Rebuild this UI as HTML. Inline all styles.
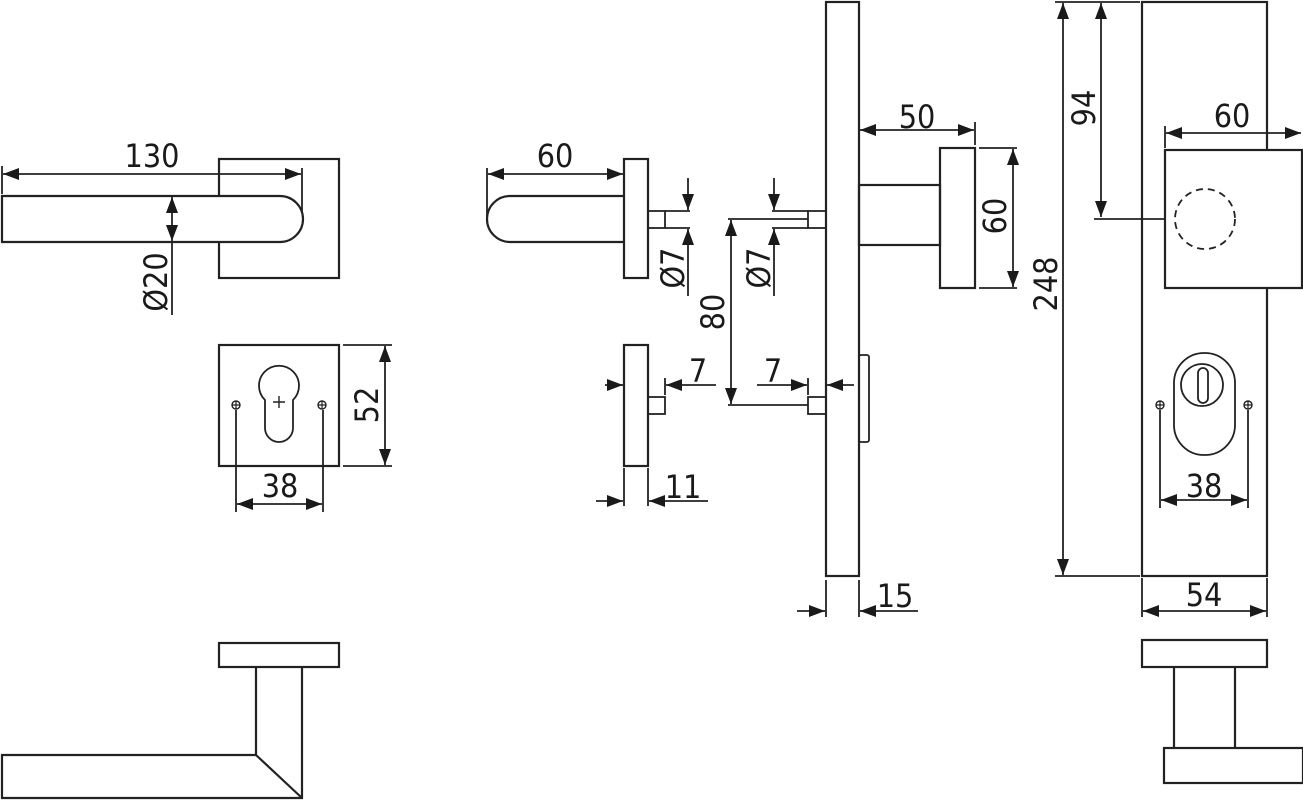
<!DOCTYPE html>
<html><head><meta charset="utf-8"><style>html,body{margin:0;padding:0;background:#fff}svg{display:block}</style></head>
<body>
<svg width="1303" height="800" viewBox="0 0 1303 800" xmlns="http://www.w3.org/2000/svg">
<defs>
<marker id="a" viewBox="0 0 16 12" refX="16" refY="6" markerWidth="16" markerHeight="12" markerUnits="userSpaceOnUse" orient="auto-start-reverse"><path d="M0,0 L16,6 L0,12 Z" fill="#1a1a1a"/></marker>
</defs>
<g fill="none" stroke="#222" stroke-width="2.2">
<!-- LEFT top handle -->
<rect x="219" y="159" width="120" height="119"/>
<path d="M2,196 H280 A23,23 0 0 1 280,242 H2 Z" fill="#fff"/>
<line x1="2" y1="166" x2="2" y2="194" stroke-width="1.8"/>
<line x1="302" y1="168" x2="302" y2="212" stroke-width="1.8"/>
<line x1="3" y1="174" x2="301" y2="174" stroke-width="1.8" marker-start="url(#a)" marker-end="url(#a)"/>
<line x1="172" y1="197" x2="172" y2="241" stroke-width="1.8" marker-start="url(#a)" marker-end="url(#a)"/>
<line x1="172" y1="241" x2="172" y2="315" stroke-width="1.8"/>
<!-- cylinder rosette -->
<rect x="219" y="345" width="120" height="121"/>
<path d="M265,400 A20,20 0 1 1 293,400 V428 A14,14 0 0 1 265,428 Z" stroke-width="1.8"/>
<path d="M273,402 H285 M279,396 V408" stroke-width="1.4"/>
<circle cx="236" cy="405" r="4" stroke-width="1.4"/><circle cx="322" cy="405" r="4" stroke-width="1.4"/>
<path d="M232,405 H240 M236,401 V409 M318,405 H326 M322,401 V409" stroke-width="1.2"/>
<line x1="236" y1="410" x2="236" y2="512" stroke-width="1.8"/>
<line x1="323" y1="410" x2="323" y2="512" stroke-width="1.8"/>
<line x1="237" y1="504" x2="322" y2="504" stroke-width="1.8" marker-start="url(#a)" marker-end="url(#a)"/>
<line x1="343" y1="345" x2="392" y2="345" stroke-width="1.8"/>
<line x1="343" y1="466" x2="392" y2="466" stroke-width="1.8"/>
<line x1="385" y1="346" x2="385" y2="465" stroke-width="1.8" marker-start="url(#a)" marker-end="url(#a)"/>
<!-- MIDDLE left handle -->
<rect x="624" y="159" width="24" height="119"/>
<path d="M624,196 H510 A23,23 0 0 0 510,242 H624" />
<line x1="487" y1="168" x2="487" y2="218" stroke-width="1.8"/>
<line x1="488" y1="174" x2="623" y2="174" stroke-width="1.8" marker-start="url(#a)" marker-end="url(#a)"/>
<rect x="648" y="211" width="17" height="17" stroke-width="1.8"/>
<path d="M665,211 H690 M665,228 H690" stroke-width="1.8"/>
<line x1="688" y1="178" x2="688" y2="210" stroke-width="1.8" marker-end="url(#a)"/>
<line x1="688" y1="296" x2="688" y2="229" stroke-width="1.8" marker-end="url(#a)"/>
<rect x="624" y="345" width="24" height="121"/>
<rect x="648" y="397" width="17" height="17" stroke-width="1.8"/>
<line x1="665" y1="378" x2="665" y2="395" stroke-width="1.8"/>
<line x1="605" y1="385" x2="623" y2="385" stroke-width="1.8" marker-end="url(#a)"/>
<line x1="716" y1="385" x2="666" y2="385" stroke-width="1.8" marker-end="url(#a)"/>
<line x1="624" y1="468" x2="624" y2="506" stroke-width="1.8"/>
<line x1="648" y1="468" x2="648" y2="506" stroke-width="1.8"/>
<line x1="596" y1="501" x2="623" y2="501" stroke-width="1.8" marker-end="url(#a)"/>
<line x1="708" y1="501" x2="649" y2="501" stroke-width="1.8" marker-end="url(#a)"/>
<!-- plate side -->
<rect x="826" y="2" width="33" height="574"/>
<rect x="808" y="211" width="18" height="17" stroke-width="1.8"/>
<path d="M772,211 H808 M772,228 H808 M728,219 H808" stroke-width="1.8"/>
<line x1="774" y1="178" x2="774" y2="210" stroke-width="1.8" marker-end="url(#a)"/>
<line x1="774" y1="296" x2="774" y2="229" stroke-width="1.8" marker-end="url(#a)"/>
<rect x="808" y="397" width="18" height="17" stroke-width="1.8"/>
<line x1="728" y1="405" x2="808" y2="405" stroke-width="1.8"/>
<line x1="731" y1="220" x2="731" y2="404" stroke-width="1.8" marker-start="url(#a)" marker-end="url(#a)"/>
<line x1="808" y1="378" x2="808" y2="395" stroke-width="1.8"/>
<line x1="757" y1="385" x2="807" y2="385" stroke-width="1.8" marker-end="url(#a)"/>
<line x1="854" y1="385" x2="827" y2="385" stroke-width="1.8" marker-end="url(#a)"/>
<rect x="859" y="355" width="10" height="87" rx="2" stroke-width="1.8"/>
<rect x="859" y="185" width="81" height="60"/>
<rect x="940" y="148" width="35" height="140"/>
<line x1="975" y1="122" x2="975" y2="145" stroke-width="1.8"/>
<line x1="860" y1="130" x2="974" y2="130" stroke-width="1.8" marker-start="url(#a)" marker-end="url(#a)"/>
<path d="M979,148 H1017 M979,288 H1017" stroke-width="1.8"/>
<line x1="1013" y1="149" x2="1013" y2="287" stroke-width="1.8" marker-start="url(#a)" marker-end="url(#a)"/>
<line x1="826" y1="580" x2="826" y2="617" stroke-width="1.8"/>
<line x1="859" y1="580" x2="859" y2="617" stroke-width="1.8"/>
<line x1="797" y1="611" x2="825" y2="611" stroke-width="1.8" marker-end="url(#a)"/>
<line x1="918" y1="611" x2="860" y2="611" stroke-width="1.8" marker-end="url(#a)"/>
<!-- RIGHT plate front -->
<path d="M1055,2 H1140 M1055,576 H1140" stroke-width="1.8"/>
<line x1="1063" y1="3" x2="1063" y2="575" stroke-width="1.8" marker-start="url(#a)" marker-end="url(#a)"/>
<line x1="1101" y1="3" x2="1101" y2="217" stroke-width="1.8" marker-start="url(#a)" marker-end="url(#a)"/>
<line x1="1094" y1="219" x2="1165" y2="219" stroke-width="1.8"/>
<rect x="1142" y="2" width="125" height="574"/>
<rect x="1165" y="150" width="137" height="138" fill="#fff"/>
<circle cx="1205" cy="219" r="30" stroke-width="1.8" stroke-dasharray="7,5"/>
<line x1="1165" y1="126" x2="1165" y2="148" stroke-width="1.8"/>
<line x1="1166" y1="133" x2="1301" y2="133" stroke-width="1.8" marker-start="url(#a)" marker-end="url(#a)"/>
<rect x="1174" y="353" width="61" height="102" rx="30" stroke-width="1.8"/>
<circle cx="1202" cy="385" r="21" stroke-width="1.8"/>
<rect x="1198" y="368" width="10" height="35" rx="5" stroke-width="1.8"/>
<circle cx="1160" cy="405" r="4" stroke-width="1.4"/><circle cx="1248" cy="405" r="4" stroke-width="1.4"/>
<path d="M1156,405 H1164 M1160,401 V409 M1244,405 H1252 M1248,401 V409" stroke-width="1.2"/>
<line x1="1160" y1="410" x2="1160" y2="508" stroke-width="1.8"/>
<line x1="1248" y1="410" x2="1248" y2="508" stroke-width="1.8"/>
<line x1="1161" y1="500" x2="1247" y2="500" stroke-width="1.8" marker-start="url(#a)" marker-end="url(#a)"/>
<line x1="1142" y1="578" x2="1142" y2="617" stroke-width="1.8"/>
<line x1="1267" y1="578" x2="1267" y2="617" stroke-width="1.8"/>
<line x1="1143" y1="611" x2="1266" y2="611" stroke-width="1.8" marker-start="url(#a)" marker-end="url(#a)"/>
<!-- bottom views -->
<rect x="219" y="643" width="120" height="24"/>
<path d="M256,667 V755 H2 V798 H302 V667 M256,755 L302,798"/>
<rect x="1142" y="640" width="125" height="27"/>
<path d="M1174,667 V748 M1235,667 V748"/>
<rect x="1164" y="748" width="139" height="35"/>
</g>
<g font-family="'DejaVu Sans Condensed','DejaVu Sans','Liberation Sans',sans-serif" font-size="32" fill="#1a1a1a" text-anchor="middle">
<text x="152" y="167">130</text>
<text x="280" y="497">38</text>
<text x="555" y="167">60</text>
<text x="917" y="128">50</text>
<text x="698" y="382">7</text>
<text x="773" y="382">7</text>
<text x="683" y="498">11</text>
<text x="895" y="607">15</text>
<text x="1232" y="127">60</text>
<text x="1204" y="497">38</text>
<text x="1204" y="606">54</text>
<text transform="translate(167,282) rotate(-90)">Ø20</text>
<text transform="translate(378,405) rotate(-90)">52</text>
<text transform="translate(684,268) rotate(-90)">Ø7</text>
<text transform="translate(770,268) rotate(-90)">Ø7</text>
<text transform="translate(724,312) rotate(-90)">80</text>
<text transform="translate(1006,216) rotate(-90)">60</text>
<text transform="translate(1057,284) rotate(-90)">248</text>
<text transform="translate(1095,108) rotate(-90)">94</text>
</g>
</svg>
</body></html>
